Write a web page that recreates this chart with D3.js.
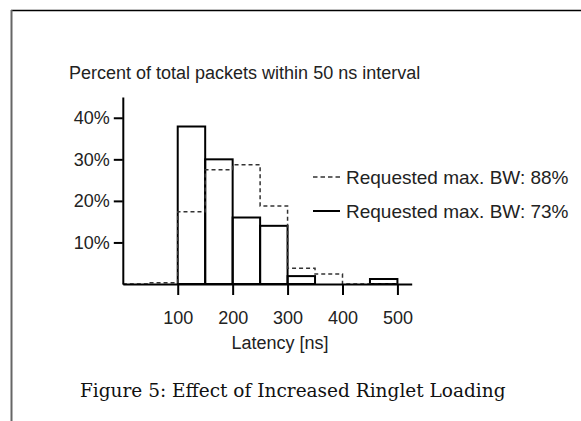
<!DOCTYPE html>
<html>
<head>
<meta charset="utf-8">
<script src="https://cdn.jsdelivr.net/npm/d3@7"></script>
<style>
  body { margin: 0; background: #fff; }
  text { font-family: "Liberation Sans", Arial, sans-serif; fill: #222; }
</style>
</head>
<body>
<script>
// bin start edges (ns), each bin is 50 ns wide
var binStarts = [0, 50, 100, 150, 200, 250, 300, 350, 400, 450];
var bw73 = [0, 0, 37.9, 30.0, 16.0, 14.0, 1.9, 0, 0, 1.2];   // solid
var bw88 = [0, 0.3, 17.4, 27.5, 28.7, 18.8, 3.8, 2.4, 0, 0]; // dashed
var xTicks = [100, 200, 300, 400, 500];
var yTicks = [10, 20, 30, 40];
var legendLabels = ["Requested max. BW: 88%", "Requested max. BW: 73%"];

var svg = d3.select("body").append("svg")
    .attr("width", 581)
    .attr("height", 421);

// page frame
svg.append("line").attr("x1", 11).attr("x2", 581).attr("y1", 10.5).attr("y2", 10.5)
    .attr("stroke", "#000").attr("stroke-width", 1.5);
svg.append("line").attr("x1", 11.5).attr("x2", 11.5).attr("y1", 10).attr("y2", 421)
    .attr("stroke", "#666").attr("stroke-width", 2);

var x = d3.scaleLinear().domain([0, 526]).range([122.8, 411.7]);
var y = d3.scaleLinear().domain([0, 45]).range([284, 97]);

// bars, 73% (solid)
svg.selectAll("rect.solid")
    .data(binStarts.map(function(d, i) { return {x0: d, v: bw73[i]}; }).filter(function(d) { return d.v > 0; }))
    .enter()
    .append("rect")
    .attr("class", "solid")
    .attr("x", function(d) { return x(d.x0); })
    .attr("y", function(d) { return y(d.v); })
    .attr("width", function(d) { return x(d.x0 + 50) - x(d.x0); })
    .attr("height", function(d) { return y(0) - y(d.v); })
    .attr("fill", "none")
    .attr("stroke", "#000")
    .attr("stroke-width", 2);

// step outline, 88% (dashed)
var steps = [[0, 0]];
binStarts.forEach(function(d, i) {
    steps.push([d, bw88[i]]);
    steps.push([d + 50, bw88[i]]);
});
steps.push([500, 0]);
svg.append("path")
    .attr("d", d3.line().x(function(d) { return x(d[0]); }).y(function(d) { return y(d[1]); })(steps))
    .attr("fill", "none")
    .attr("stroke", "#333")
    .attr("stroke-width", 1.5)
    .attr("stroke-dasharray", "4,3");

// axes
var xAxis = svg.append("g").attr("transform", "translate(0," + y(0) + ")")
    .call(d3.axisBottom(x).tickValues(xTicks).tickSize(11).tickPadding(16).tickSizeOuter(0));
var yAxis = svg.append("g").attr("transform", "translate(" + x(0) + ",0)")
    .call(d3.axisLeft(y).tickValues(yTicks).tickSize(9).tickPadding(4).tickSizeOuter(0)
        .tickFormat(function(d) { return d + "%"; }));
[xAxis, yAxis].forEach(function(g) {
    g.select(".domain").attr("stroke", "#000").attr("stroke-width", 2);
    g.selectAll(".tick line").attr("stroke", "#000").attr("stroke-width", 2);
    g.selectAll(".tick text").attr("font-size", 18).attr("fill", "#222")
        .attr("font-family", "Liberation Sans, Arial, sans-serif");
});

// titles
svg.append("text").attr("x", 69).attr("y", 78.5).attr("font-size", 18)
    .text("Percent of total packets within 50 ns interval");
svg.append("text").attr("x", 280).attr("y", 349).attr("font-size", 18)
    .attr("text-anchor", "middle").text("Latency [ns]");

// legend
var legend = svg.selectAll("g.legend")
    .data(legendLabels)
    .enter()
    .append("g")
    .attr("class", "legend")
    .attr("transform", function(d, i) { return "translate(313," + (177 + i * 34) + ")"; });
legend.append("line")
    .attr("x1", 0).attr("x2", 27)
    .attr("stroke", function(d, i) { return i === 0 ? "#333" : "#000"; })
    .attr("stroke-width", function(d, i) { return i === 0 ? 1.5 : 2; })
    .attr("stroke-dasharray", function(d, i) { return i === 0 ? "4.5,3" : null; });
legend.append("text")
    .attr("x", 33).attr("y", 6.5).attr("font-size", 19)
    .text(function(d) { return d; });

// caption
svg.append("text").attr("x", 80).attr("y", 397)
    .attr("font-size", 18.5)
    .style("font-family", "'DejaVu Serif', serif")
    .style("fill", "#111")
    .text("Figure 5: Effect of Increased Ringlet Loading");
</script>
</body>
</html>
